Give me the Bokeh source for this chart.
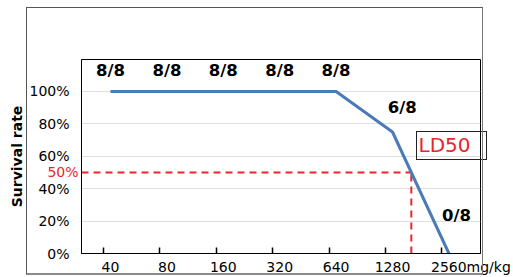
from bokeh.plotting import figure
from bokeh.models import (Label, FixedTicker, PrintfTickFormatter, Range1d,
                          ColumnDataSource, InlineStyleSheet, LinearAxis)
from bokeh.embed import file_html
from bokeh.resources import INLINE

# ---- data ----
doses = [40, 80, 160, 320, 640, 1280, 2560]          # mg/kg
alive = [8, 8, 8, 8, 8, 6, 0]
n_animals = 8
unit = "mg/kg"
y_ticks = [0, 20, 40, 60, 80, 100]
ld50_level = 50

idx = list(range(len(doses)))
survival = [a / n_animals * 100 for a in alive]
frac_labels = [f"{a}/{n_animals}" for a in alive]

ld50_x = None
for i in range(len(idx) - 1):
    if survival[i] >= ld50_level >= survival[i + 1] and survival[i] != survival[i + 1]:
        ld50_x = idx[i] + (survival[i] - ld50_level) / (survival[i] - survival[i + 1])
        break

FONT = "DejaVu Sans"
RED = "#e8262b"
BLUE = "#4a7ab8"

W, H = 513, 277
BL, BR, BT, BB = 81, 33, 59, 24
FW, FH = W - BL - BR, H - BT - BB
x_start, x_end = -0.514, 6.56
y_start, y_end = 0, 119.75


def sx(x):  # data x -> screen offset from frame left
    return (x - x_start) / (x_end - x_start) * FW


def sy(y):  # data y -> screen offset from frame bottom
    return (y - y_start) / (y_end - y_start) * FH


p = figure(width=W, height=H, output_backend="svg", toolbar_location=None,
           x_range=Range1d(x_start, x_end), y_range=Range1d(y_start, y_end),
           min_border_left=BL, min_border_right=BR, min_border_top=BT,
           min_border_bottom=BB)
p.background_fill_color = "white"
p.border_fill_color = "white"
p.outline_line_color = "black"
p.outline_line_width = 1

p.xgrid.grid_line_color = None
p.ygrid.grid_line_color = "#dddddd"

# x axis: labels centred on the points, the last one carries the unit,
# tick marks drawn as minor ticks slightly left of the labels
unit_shift = 0.39
label_pos = idx[:-1] + [idx[-1] + unit_shift]
label_txt = [str(d) for d in doses[:-1]] + [f"{doses[-1]}{unit}"]
xa = p.xaxis[0]
xa.ticker = FixedTicker(ticks=label_pos, minor_ticks=[i - 0.125 for i in idx])
xa.major_label_overrides = dict(zip(label_pos, label_txt))
xa.major_tick_line_color = None
xa.major_tick_in = 0
xa.major_tick_out = 0
xa.minor_tick_line_color = "black"
xa.minor_tick_line_width = 1.5
xa.minor_tick_in = 6
xa.minor_tick_out = 0
xa.axis_line_color = "black"
xa.major_label_text_font = FONT
xa.major_label_text_font_size = "14px"
xa.major_label_text_color = "black"
xa.major_label_standoff = 5

ya = p.yaxis[0]
ya.ticker = FixedTicker(ticks=y_ticks)
ya.formatter = PrintfTickFormatter(format="%d%%")
ya.major_tick_line_color = None
ya.major_tick_in = 0
ya.major_tick_out = 0
ya.minor_tick_line_color = None
ya.axis_line_color = "black"
ya.major_label_text_font = FONT
ya.major_label_text_font_size = "14px"
ya.major_label_text_color = "black"
ya.major_label_standoff = 12
ya.axis_label = "Survival rate"
ya.axis_label_text_font = FONT
ya.axis_label_text_font_style = "bold"
ya.axis_label_text_font_size = "14px"
ya.axis_label_text_color = "black"
ya.axis_label_standoff = 1

# red 50% marker: an outer left axis whose label is pulled back
# next to the frame with a negative standoff
red_axis = LinearAxis(ticker=FixedTicker(ticks=[ld50_level]),
                      formatter=PrintfTickFormatter(format="%d%%"),
                      axis_line_color=None, major_tick_line_color=None,
                      minor_tick_line_color=None, major_tick_in=0,
                      major_tick_out=0, major_label_standoff=-72,
                      major_label_text_color=RED, major_label_text_font=FONT,
                      major_label_text_font_size="14px")
p.add_layout(red_axis, "left")

# LD50 guide lines
p.line([x_start, ld50_x], [ld50_level, ld50_level], line_color=RED,
       line_width=2, line_dash="7 5")
p.line([ld50_x, ld50_x], [y_start, ld50_level], line_color=RED,
       line_width=2, line_dash="7 5")

# survival curve
p.line(idx, survival, line_color=BLUE, line_width=3)

# fraction labels (alive / total)
dx = [0, 0, 0, 0, 0, 9.7, 7.6]
dy = [-20.5, -20.5, -20.5, -20.5, -20.5, -24.8, -37.7]
src = ColumnDataSource(dict(x=idx, y=survival, t=frac_labels, dx=dx, dy=dy))
p.text(x="x", y="y", text="t", x_offset="dx", y_offset="dy", source=src,
       text_font={"value": FONT}, text_font_style="bold",
       text_font_size="16.5px", text_color="black",
       text_align="center", text_baseline="middle")

# LD50 text (its box is drawn by CSS below)
p.add_layout(Label(x=sx(5.461), y=sy(66.85), x_units="screen", y_units="screen",
                   text="LD50", text_font=FONT, text_font_size="20px",
                   text_color=RED, text_align="left", text_baseline="middle"))

# outer box and LD50 box
p.stylesheets = [InlineStyleSheet(css="""
:host { position: relative; }
:host::after {
  content: ""; position: absolute; left: 26px; top: 7px;
  width: 457px; height: 268px; box-sizing: border-box;
  border-top: 1px solid #555; border-left: 1px solid #555;
  border-right: 1.5px solid #777; border-bottom: 2.5px solid #8a8a8a;
  pointer-events: none; z-index: 10;
}
:host::before {
  content: ""; position: absolute; left: 416px; top: 131px;
  width: 71px; height: 29px; box-sizing: border-box;
  border: 1px solid #222; pointer-events: none; z-index: 10;
}
""")]

open("out.html", "w").write(file_html(p, INLINE))
